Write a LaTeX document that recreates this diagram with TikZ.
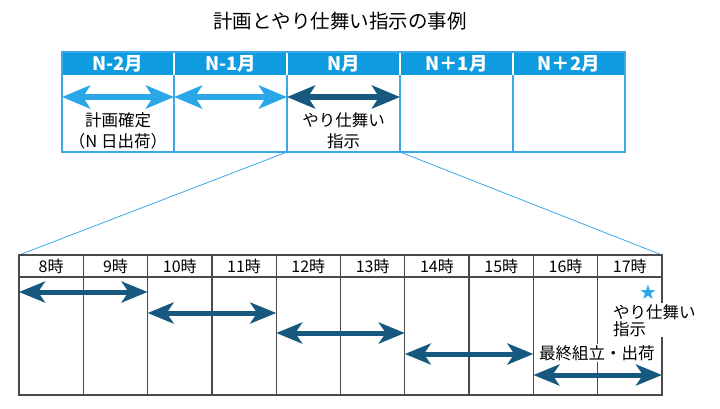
\documentclass[tikz,border=0pt]{standalone}
\usepackage{fontspec}
\setmainfont{Noto Sans CJK JP}
\newfontfamily\symfont{DejaVu Sans}
\usetikzlibrary{arrows.meta}
\definecolor{hdr}{HTML}{0E9BE0}
\definecolor{lightarr}{HTML}{2AA7E8}
\definecolor{darkarr}{HTML}{17587F}
\definecolor{gridc}{HTML}{4A4A4A}
\definecolor{tline}{HTML}{3AA8E8}
\tikzset{
  bigtip/.tip={Stealth[length=28pt,width=23pt,inset=7pt]},
  smalltip/.tip={Stealth[length=26pt,width=21pt,inset=7pt]},
  toparrow/.style={line width=6pt,{bigtip}-{bigtip}},
  botarrow/.style={line width=5pt,darkarr,{smalltip}-{smalltip}},
  hdrtext/.style={text=white,font=\bfseries\fontsize{18.5}{20}\selectfont},
  celltext/.style={font=\fontsize{16.5}{21}\selectfont,align=center},
  hourtext/.style={font=\fontsize{16}{18}\selectfont},
  note/.style={font=\fontsize{16.5}{17}\selectfont,fill=white,inner sep=1pt,align=left},
  gridline/.style={gridc,line width=1.3pt},
  bluegrid/.style={tline,line width=1.5pt},
  zoomline/.style={tline,line width=0.8pt}
}
\begin{document}
\begin{tikzpicture}[x=1pt,y=-1pt]
\useasboundingbox (0,0) rectangle (720,408);
% title
\node[font=\fontsize{19.5}{21}\selectfont] (title) at (340,21) {計画とやり仕舞い指示の事例};
% top table
\fill[hdr] (62,52) rectangle (625,75);
\foreach \x in {174,287,400,513}{
  \draw[white,line width=1.2pt] (\x,52) -- (\x,75);
  \draw[bluegrid] (\x,75) -- (\x,152);
}
\draw[bluegrid] (62,52) rectangle (625,152);
\node[hdrtext] (h1) at (118,63.5) {N-2月};
\node[hdrtext] (h2) at (230.5,63.5) {N-1月};
\node[hdrtext] (h3) at (343.5,63.5) {N月};
\node[hdrtext] (h4) at (456.5,63.5) {N＋1月};
\node[hdrtext] (h5) at (569,63.5) {N＋2月};
\coordinate (t0) at (62,97);
\coordinate (t1) at (174,97);
\coordinate (t2) at (287,97);
\coordinate (t3) at (400,97);
\draw[toparrow,lightarr] (t0) -- (t1);
\draw[toparrow,lightarr] (t1) -- (t2);
\draw[toparrow,darkarr] (t2) -- (t3);
\node[celltext] (c1) at (118,131) {計画確定\\（N 日出荷）};
\node[celltext] (c3) at (343.5,131) {やり仕舞い\\指示};
% zoom lines
\coordinate (zl) at (287,152);
\coordinate (zr) at (400,152);
\coordinate (bl) at (19,255);
\coordinate (br) at (662,255);
\draw[zoomline] (zl) -- (bl);
\draw[zoomline] (zr) -- (br);
% bottom table
\foreach \i/\x in {1/83.3,2/147.6,3/211.9,4/276.2,5/340.5,6/404.8,7/469.1,8/533.4,9/597.7}{
  \draw[gridline] (\x,255) -- (\x,395);
}
\draw[gridline] (19,255) rectangle (662,395);
\draw[gridline] (19,277) -- (662,277);
\foreach \i/\h in {0/8,1/9,2/10,3/11,4/12,5/13,6/14,7/15,8/16,9/17}{
  \node[hourtext] (hr\i) at ({51.15+64.3*\i},266.5) {\h 時};
}
\coordinate (a0) at (19,292);
\coordinate (a1) at (147.6,292);
\coordinate (b0) at (147.6,313);
\coordinate (b1) at (276.2,313);
\coordinate (c0) at (276.2,333);
\coordinate (c1e) at (404.8,333);
\coordinate (d0) at (404.8,354);
\coordinate (d1) at (533.4,354);
\coordinate (e0) at (533.4,375);
\coordinate (e1) at (662,375);
\draw[botarrow] (a0) -- (a1);
\draw[botarrow] (b0) -- (b1);
\draw[botarrow] (c0) -- (c1e);
\draw[botarrow] (d0) -- (d1);
\node[note,anchor=west] (fin) at (538,353) {最終組立・出荷};
\draw[botarrow] (e0) -- (e1);
\node[note,anchor=north west] (yari) at (612,303) {やり仕舞い\\指示};
\node[text=lightarr,font=\symfont\fontsize{20}{20}\selectfont,inner sep=0pt,anchor=south] (star) at (648,300) {★};
\end{tikzpicture}
\end{document}
